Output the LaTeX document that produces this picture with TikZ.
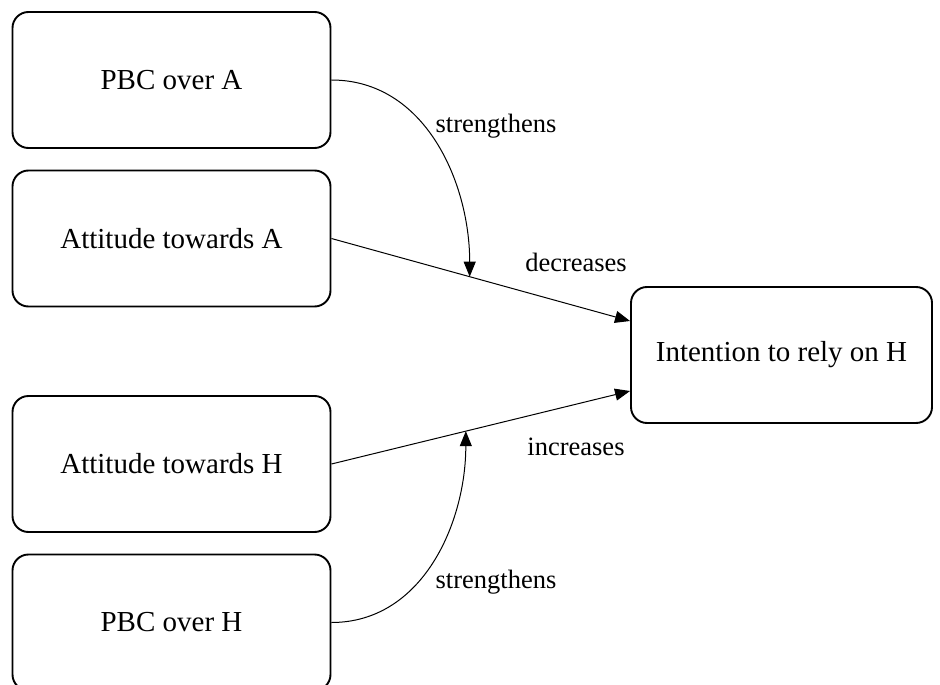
\documentclass[tikz,border=0pt]{standalone}
\usepackage{fontspec}
\setmainfont{Liberation Serif}
\usetikzlibrary{arrows.meta}
\begin{document}
\begin{tikzpicture}[x=1pt,y=-1pt,
  box/.style={draw, line width=1.9pt, rounded corners=16pt, minimum width=318pt, minimum height=136pt, inner sep=0pt, font=\fontsize{29}{33}\selectfont},
  conn/.style={draw, line width=1pt},
  arr/.style={conn, -{Triangle[length=15pt,width=12pt]}},
  lbl/.style={anchor=base, inner sep=0pt, font=\fontsize{26.5}{30}\selectfont}]
\useasboundingbox (0,0) rectangle (940,685);
\node[box] (pbcA) at (171.5,80) {PBC over A};
\node[box] (attA) at (171.5,238.5) {Attitude towards A};
\node[box] (attH) at (171.5,464) {Attitude towards H};
\node[box] (pbcH) at (171.5,622.5) {PBC over H};
\node[box, minimum width=301pt] (int) at (781.5,355) {Intention to rely on H};
\coordinate (inA) at ([yshift=34pt]int.west);
\coordinate (inH) at ([yshift=-36pt]int.west);
\draw[arr] (attA.east) -- (inA) coordinate[pos=0.463] (mA);
\draw[arr] (attH.east) -- (inH) coordinate[pos=0.45] (mH);
\draw[arr] (pbcA.east) to[out=0,in=90] (mA);
\draw[arr] (pbcH.east) to[out=0,in=-90] (mH);
\node[lbl] (l1) at (496,132) {strengthens};
\node[lbl] (l2) at (576,271) {decreases};
\node[lbl] (l3) at (576,455) {increases};
\node[lbl] (l4) at (496,588) {strengthens};
\end{tikzpicture}
\end{document}
